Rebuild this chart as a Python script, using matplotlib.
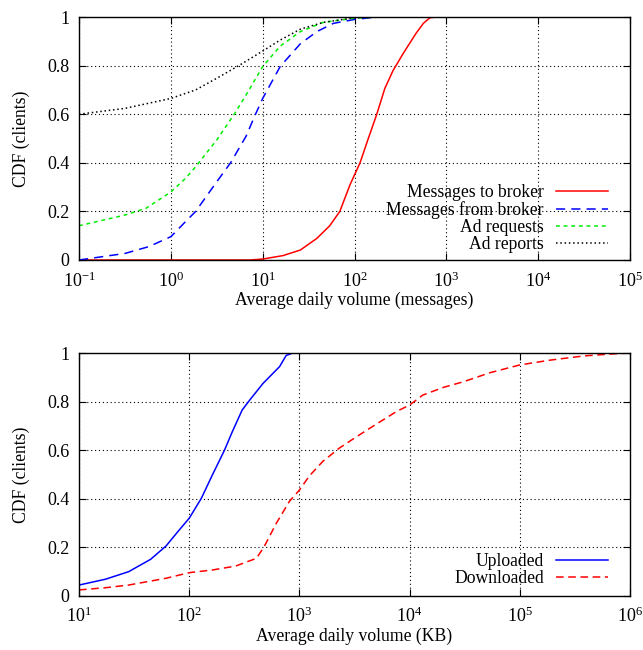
import matplotlib
matplotlib.use("Agg")
import matplotlib.pyplot as plt
import numpy as np
from matplotlib.ticker import FixedLocator, LogFormatterMathtext, NullLocator

plt.rcParams['font.family'] = ['Liberation Serif', 'DejaVu Serif']
plt.rcParams['mathtext.fontset'] = 'custom'
plt.rcParams['mathtext.rm'] = 'Liberation Serif'
plt.rcParams['mathtext.it'] = 'Liberation Serif:italic'

# ---- top panel: messages (x given as log10 of volume) ----
to_broker_lx = [-1, 0, 0.5, 0.863, 1.0, 1.22, 1.41, 1.59, 1.73, 1.84, 1.95, 2.06, 2.15, 2.24,
                2.33, 2.42, 2.53, 2.67, 2.75, 2.82, 2.89, 5]
to_broker_y = [0, 0, 0, 0.0, 0.004, 0.018, 0.041, 0.089, 0.141, 0.2, 0.309, 0.4, 0.5, 0.597,
               0.706, 0.78, 0.85, 0.933, 0.974, 0.997, 1.0, 1.0]

from_broker_lx = [-1, -0.5, -0.24, 0, 0.16, 0.27, 0.5, 0.65, 0.82, 0.91, 1.0, 1.19, 1.41,
                  1.59, 1.77, 2.0, 2.24, 5]
from_broker_y = [0, 0.027, 0.055, 0.096, 0.158, 0.2, 0.322, 0.4, 0.51, 0.59, 0.665, 0.796, 0.89,
                 0.94, 0.974, 0.99, 1.0, 1.0]

ad_req_lx = [-1, -0.5, -0.27, 0, 0.16, 0.27, 0.5, 0.69, 0.82, 1.0, 1.19, 1.41, 1.66, 2.0, 2.24, 5]
ad_req_y = [0.141, 0.185, 0.213, 0.28, 0.336, 0.384, 0.494, 0.6, 0.68, 0.796, 0.88, 0.94, 0.978,
            0.995, 1.0, 1.0]

ad_rep_lx = [-1, -0.5, 0, 0.27, 0.5, 0.74, 1.0, 1.19, 1.41, 1.66, 2.0, 2.3, 5]
ad_rep_y = [0.6, 0.624, 0.665, 0.70, 0.748, 0.8, 0.86, 0.905, 0.95, 0.978, 0.997, 1.0, 1.0]

# ---- bottom panel: KB ----
upl_lx = [1, 1.24, 1.45, 1.65, 1.79, 1.91, 2.0, 2.11, 2.21, 2.32, 2.39, 2.48, 2.55, 2.67,
          2.82, 2.88, 2.94, 6]
upl_y = [0.045, 0.069, 0.1, 0.151, 0.206, 0.272, 0.32, 0.402, 0.498, 0.6, 0.675, 0.765, 0.807,
         0.875, 0.944, 0.99, 1.0, 1.0]

dl_lx = [1, 1.24, 1.45, 1.79, 2.0, 2.21, 2.42, 2.61, 2.68, 2.79, 2.91, 3.0, 3.09, 3.21, 3.36,
         3.52, 3.70, 3.88, 4.0, 4.12, 4.31, 4.49, 4.73, 5.0, 5.28, 5.58, 5.83, 6.0]
dl_y = [0.025, 0.034, 0.045, 0.073, 0.096, 0.107, 0.123, 0.155, 0.203, 0.299, 0.39, 0.436,
        0.494, 0.553, 0.608, 0.656, 0.708, 0.759, 0.786, 0.827, 0.859, 0.882, 0.919, 0.951,
        0.971, 0.988, 0.996, 1.0]

top_xticks = [1e-1, 1e0, 1e1, 1e2, 1e3, 1e4, 1e5]
bot_xticks = [1e1, 1e2, 1e3, 1e4, 1e5, 1e6]

fig = plt.figure(figsize=(6.43, 6.5), dpi=100)
ax1 = fig.add_axes([0.1229, 0.6, 0.8569, 0.3738])
ax2 = fig.add_axes([0.1229, 0.0831, 0.8569, 0.3738])

lw = 1.1
ax1.plot(10 ** np.array(to_broker_lx), to_broker_y, color='#ff0000', lw=lw, label='Messages to broker')
ax1.plot(10 ** np.array(from_broker_lx), from_broker_y, color='#0000ff', lw=lw, dashes=(6, 4), label='Messages from broker')
ax1.plot(10 ** np.array(ad_req_lx), ad_req_y, color='#00ee00', lw=lw, dashes=(2.5, 2.5), label='Ad requests')
ax1.plot(10 ** np.array(ad_rep_lx), ad_rep_y, color='black', lw=lw, dashes=(1, 1.8), label='Ad reports')

ax2.plot(10 ** np.array(upl_lx), upl_y, color='#0000ff', lw=lw, label='Uploaded')
ax2.plot(10 ** np.array(dl_lx), dl_y, color='#ff0000', lw=lw, dashes=(5, 3), label='Downloaded')

for ax, xticks, xlabel, leg_y in [(ax1, top_xticks, 'Average daily volume (messages)', 0.03),
                                  (ax2, bot_xticks, 'Average daily volume (KB)', 0.035)]:
    ax.set_xscale('log')
    ax.set_xlim(xticks[0], xticks[-1])
    ax.set_ylim(0, 1)
    ax.xaxis.set_major_locator(FixedLocator(xticks))
    ax.xaxis.set_major_formatter(LogFormatterMathtext())
    ax.xaxis.set_minor_locator(NullLocator())
    ax.set_yticks([0, 0.2, 0.4, 0.6, 0.8, 1])
    ax.set_yticklabels(['0', '0.2', '0.4', '0.6', '0.8', '1'])
    ax.tick_params(direction='in', top=True, right=True, labelsize=13, length=5, width=0.8)
    ax.tick_params(axis='y', pad=7)
    ax.tick_params(axis='x', pad=8)
    ax.grid(True, color='black', linestyle=(0, (1, 2.5)), linewidth=0.8)
    ax.set_xlabel(xlabel, fontsize=12.7, labelpad=1)
    ax.set_ylabel('CDF (clients)', fontsize=12.7, labelpad=12)
    for s in ax.spines.values():
        s.set_linewidth(1.0)
    ax.legend(loc='lower right', frameon=False, markerfirst=False, fontsize=12.7,
              handlelength=2.95, handletextpad=0.68, labelspacing=0.0,
              borderpad=0, borderaxespad=0, bbox_to_anchor=(0.96, leg_y))

fig.savefig('out.png', dpi=100)
